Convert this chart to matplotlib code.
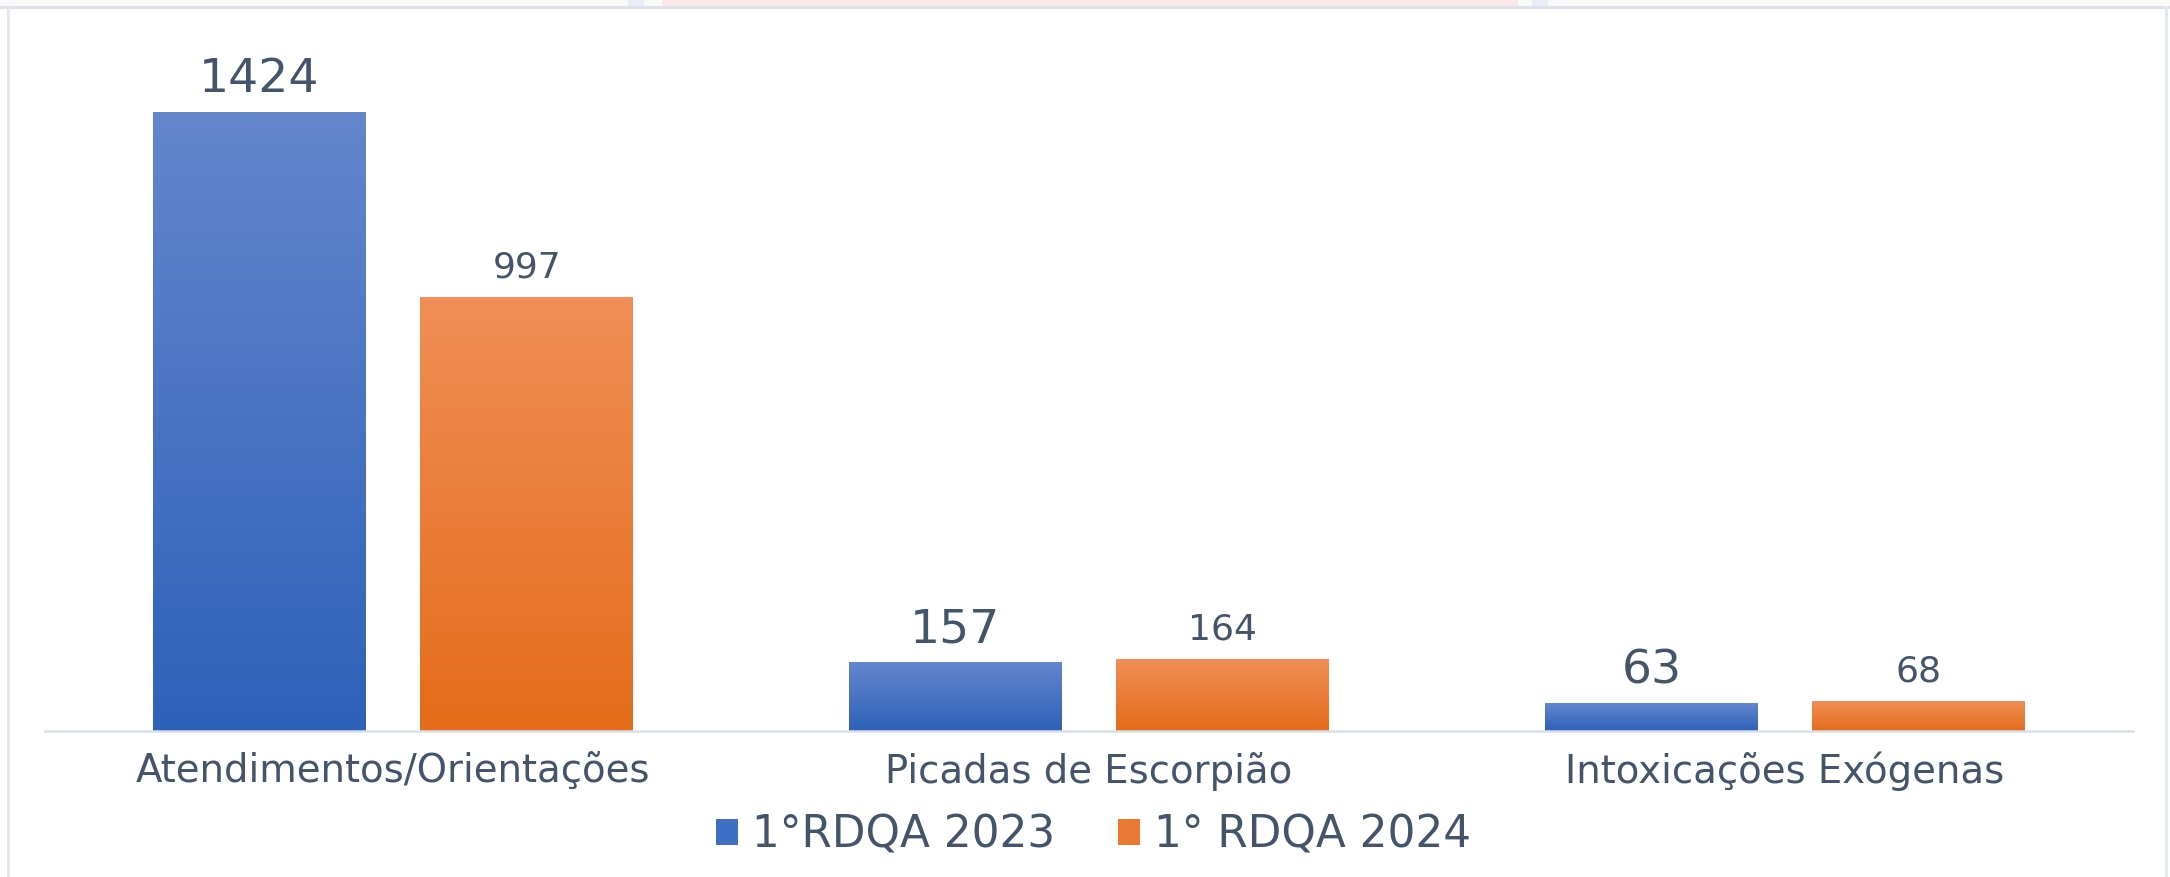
import numpy as np
import matplotlib
matplotlib.use("Agg")
import matplotlib.pyplot as plt
import matplotlib.patches as patches
from matplotlib.colors import LinearSegmentedColormap

categories = ["Atendimentos/Orientações", "Picadas de Escorpião", "Intoxicações Exógenas"]
series_names = ["1°RDQA 2023", "1° RDQA 2024"]
values_2023 = [1424, 157, 63]
values_2024 = [997, 164, 68]

TEXT = "#44546A"
AXIS = "#D9DEE8"
BLUE_TOP, BLUE_BOT = "#6386CD", "#2E61B9"
ORANGE_TOP, ORANGE_BOT = "#F18E57", "#E46C1A"

plt.rcParams["font.family"] = ["DejaVu Sans"]

fig = plt.figure(figsize=(21.7, 8.77), dpi=100)
W, H = 2170, 877

# screenshot frame bits
def px_rect(x0, y0, x1, y1, color):
    fig.patches.append(patches.Rectangle((x0 / W, 1 - y1 / H), (x1 - x0) / W, (y1 - y0) / H,
                                         transform=fig.transFigure, facecolor=color,
                                         edgecolor="none", zorder=0))

px_rect(0, 0, W, 7, "#FAFAFB")
px_rect(628, 0, 644, 7, "#E9EDF5")
px_rect(662, 0, 1518, 7, "#FBE9E9")
px_rect(1532, 0, 1548, 7, "#E9EDF5")
px_rect(0, 6, W, 9, "#DDE2EA")
px_rect(7, 6, 10, H, "#E3E7EE")
px_rect(2165, 6, 2168, H, "#E3E7EE")

ax = fig.add_axes([45 / W, 1 - 731 / H, (2133 - 45) / W, 0.79305])
ax.set_facecolor("none")

x = np.arange(len(categories))
width = 0.306
off = 0.192

bars1 = ax.bar(x - off, values_2023, width, color="none", zorder=2)
bars2 = ax.bar(x + off, values_2024, width, color="none", zorder=2)

# vertical gradient fill for each bar
grad = np.linspace(0, 1, 256).reshape(-1, 1)
cmap_b = LinearSegmentedColormap.from_list("b", [BLUE_BOT, BLUE_TOP])
cmap_o = LinearSegmentedColormap.from_list("o", [ORANGE_BOT, ORANGE_TOP])
for bars, cm in [(bars1, cmap_b), (bars2, cmap_o)]:
    for b in bars:
        x0, h = b.get_x(), b.get_height()
        ax.imshow(grad, extent=[x0, x0 + b.get_width(), 0, h], origin="lower",
                  aspect="auto", cmap=cm, zorder=2)

for b, v in zip(bars1, values_2023):
    ax.annotate(str(v), (b.get_x() + b.get_width() / 2, v), xytext=(0, 14.4),
                textcoords="offset points", ha="center", va="baseline",
                fontsize=34, color=TEXT)
for b, v in zip(bars2, values_2024):
    ax.annotate(str(v), (b.get_x() + b.get_width() / 2, v), xytext=(0, 14.4),
                textcoords="offset points", ha="center", va="baseline",
                fontsize=26, color=TEXT)

ax.set_xlim(-0.5, 2.5)
ax.set_ylim(0, 1600)
ax.set_yticks([])
ax.set_xticks(x)
ax.set_xticklabels(categories)
ax.tick_params(axis="x", length=0, pad=37.4, labelsize=27.8, labelcolor=TEXT)
for lbl in ax.get_xticklabels():
    lbl.set_va("baseline")
for s in ["top", "left", "right"]:
    ax.spines[s].set_visible(False)
ax.spines["bottom"].set_color(AXIS)
ax.spines["bottom"].set_linewidth(1.8)

handles = [patches.Patch(facecolor="#3F6FC3", edgecolor="none"),
           patches.Patch(facecolor="#EA7A32", edgecolor="none")]
fig.legend(handles, series_names, loc="center", bbox_to_anchor=(0.504, 1 - 835 / H),
           ncol=2, frameon=False, fontsize=31.5, labelcolor=TEXT,
           handlelength=0.52, handleheight=0.52, handletextpad=0.32,
           columnspacing=1.42, borderpad=0)

fig.savefig("out.png", dpi=100)
